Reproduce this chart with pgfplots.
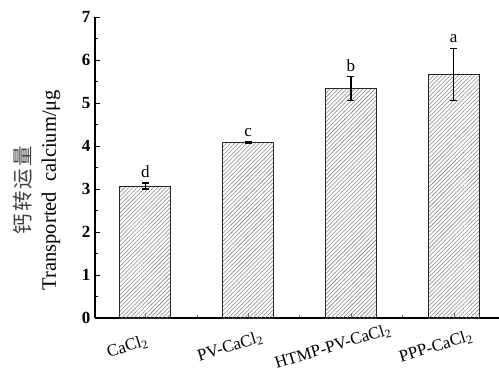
\documentclass[border=0pt]{standalone}
\usepackage{pgfplots}
\pgfplotsset{compat=1.18}
\usepackage{fontspec}
\setmainfont{Liberation Serif}
\newfontfamily\cjk{Noto Sans CJK SC}
\usetikzlibrary{patterns,patterns.meta}
\begin{document}
\begin{tikzpicture}
\begin{axis}[
  at={(0,0)}, anchor=south west,
  scale only axis, width=404pt, height=301pt,
  xmin=0.51, xmax=4.44, ymin=0, ymax=7,
  axis x line=bottom, axis y line=left,
  axis line style={-, line width=1.2pt},
  ytick={0,1,2,3,4,5,6,7}, minor y tick num=1,
  xtick={1,2,3,4}, minor xtick={1.5,2.5,3.5},
  xticklabels={CaCl\textsubscript{2},PV-CaCl\textsubscript{2},HTMP-PV-CaCl\textsubscript{2},PPP-CaCl\textsubscript{2}},
  tick align=inside, major tick length=5pt, minor tick length=3pt,
  tick style={line width=0.9pt, black},
  xtick style={line width=0.5pt, black!60},
  /pgf/number format/assume math mode=true,
  y tick label style={font=\bfseries\fontsize{17}{17}\selectfont, xshift=-1pt},
  x tick label style={font=\fontsize{17}{18}\selectfont, xshift=-18pt, yshift=-29pt, rotate=17, anchor=center},
  ylabel={{\cjk\color{black!75}钙\hspace{2pt}转\hspace{2pt}运\hspace{2pt}量}\\Transported\ \ calcium/μg},
  ylabel style={align=center, font=\fontsize{20.5}{25}\selectfont, at={(axis description cs:-0.077,0.425)}, anchor=south},
  clip=false,
]
\addplot[ybar, bar width=51pt, bar shift=0pt, draw=black!85, line width=0.9pt,
  pattern={Lines[angle=45, distance=2.9pt, line width=0.55pt]}, pattern color=black!50,
  error bars/.cd, y dir=both, y explicit,
  error bar style={line width=1.1pt, black},
  error mark options={rotate=90, mark size=3.5pt, line width=1.1pt, black}]
coordinates {
  (1,3.07) +- (0,0.07)
  (2,4.09) +- (0,0.02)
  (3,5.33) +- (0,0.28)
  (4,5.66) +- (0,0.61)
};
\addplot[draw=none, mark=none, nodes near coords, point meta=explicit symbolic,
  every node near coord/.append style={anchor=south, inner sep=0pt, font=\fontsize{17}{18}\selectfont, black}]
coordinates {
  (1,3.26) [d]
  (2,4.21) [c]
  (3,5.72) [b]
  (4,6.40) [a]
};
\end{axis}
\pgfresetboundingbox
\path[use as bounding box] (-95pt,-60pt) rectangle (404pt,318pt);
\end{tikzpicture}
\end{document}
